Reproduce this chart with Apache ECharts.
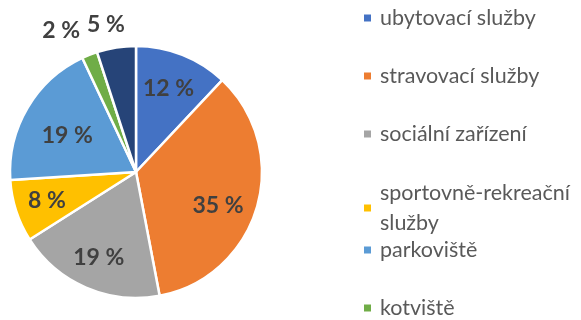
<!DOCTYPE html>
<html>
<head>
<meta charset="utf-8">
<script src="https://cdn.jsdelivr.net/npm/echarts@6/dist/echarts.min.js"></script>
<style>
  html, body { margin: 0; padding: 0; background: #fff; }
  #chart { width: 581px; height: 320px; }
</style>
</head>
<body>
<div id="chart"></div>
<script>
// Share of services (percent)
const categories = [
  'ubytovací služby',
  'stravovací služby',
  'sociální zařízení',
  'sportovně-rekreační služby',
  'parkoviště',
  'kotviště',
  'ostatní'
];
const values = [12, 35, 19, 8, 19, 2, 5];
const colors = ['#4472C4', '#ED7D31', '#A5A5A5', '#FFC000', '#5B9BD5', '#70AD47', '#264478'];
// Slices whose value labels sit outside the pie
const outsideLabels = ['kotviště', 'ostatní'];

const FONT = 'Lato';
const CENTER = [136, 172];
const R = 126;

// Small nudges so neighbouring labels sit comfortably inside their slices
const labelNudge = {
  'ubytovací služby': [-2, 4],
  'stravovací služby': [-8, 7],
  'parkoviště': [12, 11],
  'kotviště': [-18, 2],
  'ostatní': [-6, 5]
};

const pieData = categories.map((name, i) => ({ name: name, value: values[i] }));

const labelStyle = {
  color: '#404040',
  fontFamily: FONT,
  fontWeight: 'bold',
  fontSize: 23
};

// Transparent ring used only to place the value labels at ~72% of the radius
const innerLabelData = categories.map((name, i) => ({
  name: name,
  value: values[i],
  label: { show: outsideLabels.indexOf(name) < 0, offset: labelNudge[name] || [0, 0] }
}));

// Transparent ring outside the pie carrying the labels of the thin slices
const outerLabelData = categories.map((name, i) => ({
  name: name,
  value: values[i],
  label: { show: outsideLabels.indexOf(name) >= 0, offset: labelNudge[name] || [0, 0] }
}));

const transparentItem = { color: 'rgba(0,0,0,0)', borderWidth: 0 };

// Long legend entries wrap before their last word
function wrapLegend(name) {
  if (name.length <= 20) return name;
  const cut = name.lastIndexOf(' ');
  return name.slice(0, cut) + '\n' + name.slice(cut + 1);
}

const legendBase = {
  orient: 'vertical',
  left: 362,
  padding: 0,
  height: 220,
  itemGap: 28,
  itemWidth: 9,
  itemHeight: 9,
  icon: 'rect',
  selectedMode: false,
  formatter: wrapLegend,
  textStyle: {
    color: '#595959',
    fontFamily: FONT,
    fontSize: 21.5,
    lineHeight: 30,
    padding: [0, 0, 0, 3]
  }
};

const option = {
  animation: false,
  color: colors,
  legend: [
    Object.assign({}, legendBase, { top: 3, data: categories.slice(0, 3) }),
    Object.assign({}, legendBase, {
      top: 163,
      data: categories.slice(3, 4),
      textStyle: Object.assign({}, legendBase.textStyle, { padding: [30, 0, 0, 3] })
    }),
    Object.assign({}, legendBase, { top: 235, data: categories.slice(4) })
  ],
  series: [
    {
      type: 'pie',
      center: CENTER,
      radius: R,
      startAngle: 90,
      clockwise: true,
      silent: true,
      itemStyle: { borderColor: '#ffffff', borderWidth: 2.5 },
      label: { show: false },
      labelLine: { show: false },
      data: pieData
    },
    {
      type: 'pie',
      center: CENTER,
      radius: [R * 0.44, R],
      startAngle: 90,
      clockwise: true,
      silent: true,
      itemStyle: transparentItem,
      label: Object.assign({ position: 'inside', formatter: '{c} %' }, labelStyle),
      labelLine: { show: false },
      data: innerLabelData
    },
    {
      type: 'pie',
      center: CENTER,
      radius: [R, R * 1.4],
      startAngle: 90,
      clockwise: true,
      silent: true,
      itemStyle: transparentItem,
      label: Object.assign({ position: 'inside', formatter: '{c} %' }, labelStyle),
      labelLine: { show: false },
      data: outerLabelData
    }
  ]
};

const chart = echarts.init(document.getElementById('chart'), null, { renderer: 'canvas' });
chart.setOption(option);
</script>
</body>
</html>
